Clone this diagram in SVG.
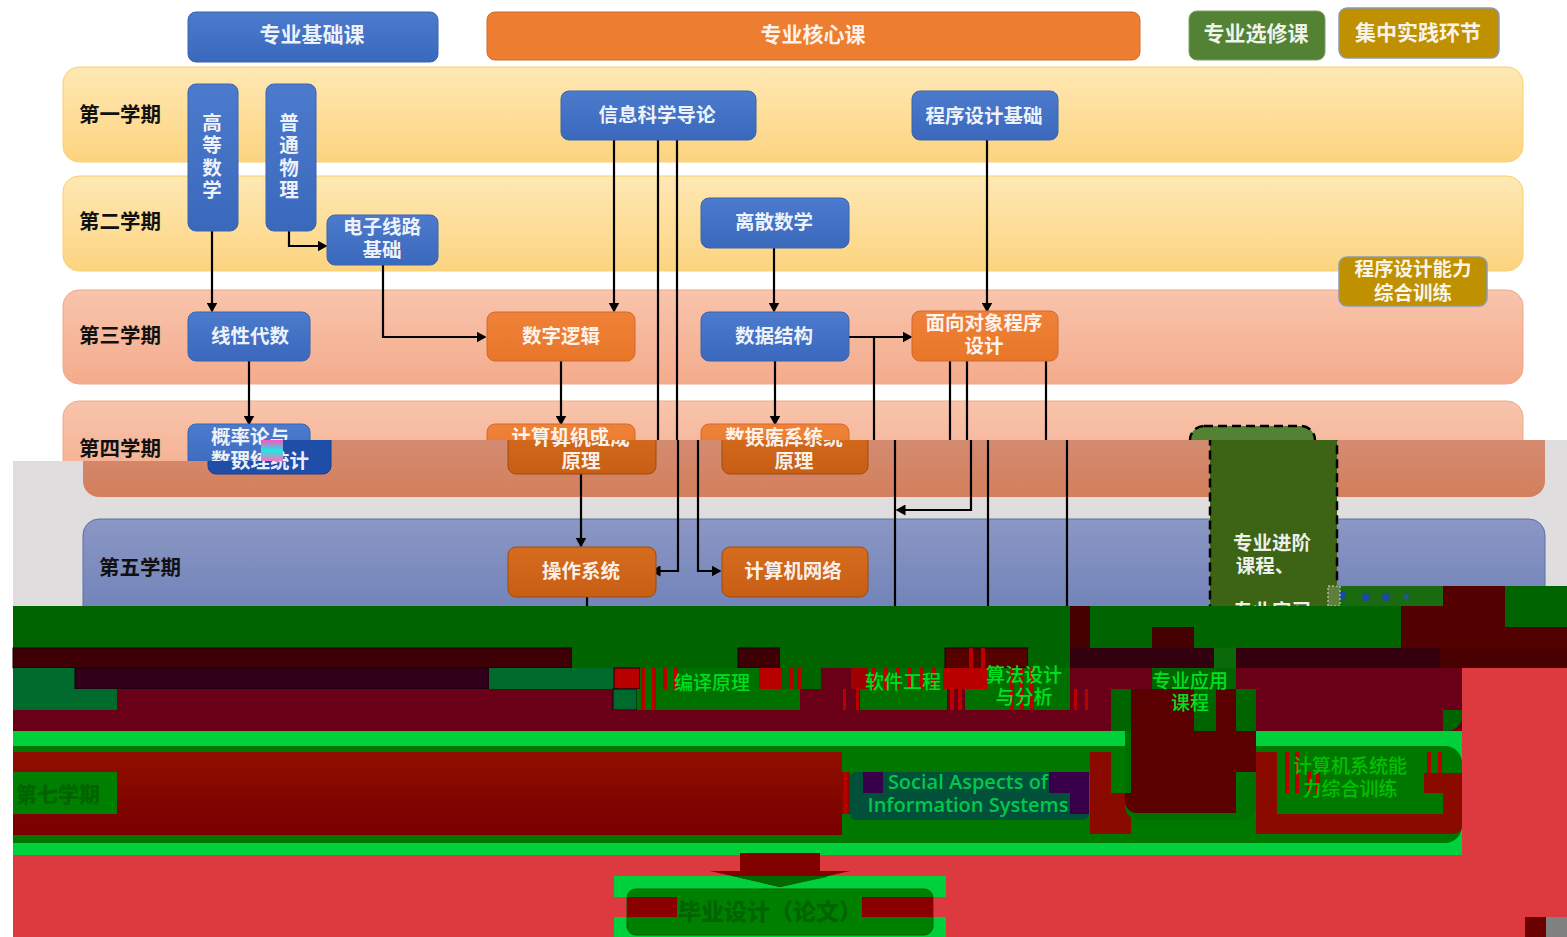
<svg xmlns="http://www.w3.org/2000/svg" width="1567" height="937" viewBox="0 0 1567 937">
<style>
text{font-family:"Noto Sans CJK SC","Noto Sans",sans-serif;text-anchor:middle}
.t{fill:#fff;font-size:19.5px;font-weight:700;fill-opacity:.92}
.h{fill:#fff;font-size:21px;font-weight:700;fill-opacity:.92}
.l{fill:#111;font-size:20.5px;font-weight:700;text-anchor:start}
.blue{fill:url(#gb);stroke:#3a64ac;stroke-width:1}
.or{fill:url(#go);stroke:#d4692a;stroke-width:1}
.dor{fill:url(#gdo);stroke:#a04a10;stroke-width:1}
.gold{fill:#bf9000;stroke:#8a9ab0;stroke-width:1.5}
.c{fill:none;stroke:#000;stroke-width:2.2}
.a{fill:none;stroke:#000;stroke-width:2.2;marker-end:url(#ar)}
.gt{fill:#00d010;font-size:19px;font-weight:500}
.dk{fill:#006400;font-weight:900}
.G{fill:#006400}.M{fill:#3e0004}.P{fill:#30001a}.C{fill:#6a0018}.R{fill:#b80000}.D{fill:#8a0a00}.B{fill:#00d03c}.K{fill:#5a0000}.T{fill:#006a2c}.V{fill:#38004a}.N{fill:#dd3a40}
.e{stroke:#12000a;stroke-width:1}
</style>
<defs>
<marker id="ar" markerWidth="10" markerHeight="11" refX="8.5" refY="5.5" orient="auto" markerUnits="userSpaceOnUse"><path d="M0 0L10 5.5L0 11Z" fill="#000"/></marker>
<linearGradient id="gb" x1="0" y1="0" x2="0" y2="1"><stop offset="0" stop-color="#4c7bcd"/><stop offset="1" stop-color="#3a68bc"/></linearGradient>
<linearGradient id="go" x1="0" y1="0" x2="0" y2="1"><stop offset="0" stop-color="#ee8238"/><stop offset="1" stop-color="#e87628"/></linearGradient>
<linearGradient id="gdo" x1="0" y1="0" x2="0" y2="1"><stop offset="0" stop-color="#d56c1e"/><stop offset="1" stop-color="#c85e14"/></linearGradient>
<linearGradient id="gy" x1="0" y1="0" x2="0" y2="1"><stop offset="0" stop-color="#ffe8b4"/><stop offset="1" stop-color="#fcd480"/></linearGradient>
<linearGradient id="gs" x1="0" y1="0" x2="0" y2="1"><stop offset="0" stop-color="#f8c4ac"/><stop offset="1" stop-color="#f4ab8c"/></linearGradient>
<linearGradient id="gs2" x1="0" y1="0" x2="0" y2="1"><stop offset="0" stop-color="#d39480"/><stop offset="1" stop-color="#d47f5c"/></linearGradient>
<linearGradient id="gbl" x1="0" y1="0" x2="0" y2="1"><stop offset="0" stop-color="#8b97c4"/><stop offset="1" stop-color="#6a7db6"/></linearGradient>
<linearGradient id="gn" x1="0" y1="0" x2="0" y2="1"><stop offset="0" stop-color="#ff50c8"/><stop offset=".5" stop-color="#20e8e0"/><stop offset="1" stop-color="#ff70c0"/></linearGradient>
<linearGradient id="gd" x1="0" y1="0" x2="0" y2="1"><stop offset="0" stop-color="#900e00"/><stop offset="1" stop-color="#780000"/></linearGradient>
<clipPath id="shift"><path d="M261 440H1567V606H13V461H261Z"/></clipPath>
</defs>
<rect width="1567" height="937" fill="#fff"/>
<g id="bands">
<rect x="63" y="67" width="1460" height="95" rx="16" fill="url(#gy)" stroke="#f8d070"/>
<rect x="63" y="176" width="1460" height="95" rx="16" fill="url(#gy)" stroke="#f8d070"/>
<rect x="63" y="290" width="1460" height="94" rx="16" fill="url(#gs)" stroke="#efa888"/>
<rect x="63" y="401" width="1460" height="94" rx="16" fill="url(#gs)" stroke="#efa888"/>
</g>
<g id="labels-top">
<text class="l" x="79" y="122">第一学期</text>
<text class="l" x="79" y="229">第二学期</text>
<text class="l" x="79" y="343">第三学期</text>
<text class="l" x="79" y="456">第四学期</text>
</g>
<g id="header-foundation"><rect class="blue" x="188" y="12" width="250" height="50" rx="8"/><text class="h" x="312" y="42">专业基础课</text></g>
<g id="header-core"><rect x="487" y="12" width="653" height="48" rx="8" fill="#ed7d31" stroke="#d46a28"/><text class="h" x="813" y="42">专业核心课</text></g>
<g id="header-elective"><rect x="1189" y="11" width="136" height="49" rx="8" fill="#548235" stroke="#7f9f68"/><text class="h" x="1256" y="41">专业选修课</text></g>
<g id="header-practice"><rect class="gold" x="1339" y="8" width="160" height="50" rx="8"/><text class="h" x="1418" y="40">集中实践环节</text></g>
<g id="connectors-top">
<path class="a" d="M212 231V311"/>
<path class="a" d="M289 231V246H326"/>
<path class="a" d="M383 265V337H485"/>
<path class="a" d="M614 140V311"/>
<path class="c" d="M658 140V440M677 140V440"/>
<path class="a" d="M987 140V311"/>
<path class="a" d="M774 248V311"/>
<path class="a" d="M249 361V424"/>
<path class="a" d="M561 361V424"/>
<path class="a" d="M775 361V424"/>
<path class="a" d="M849 337H911"/>
<path class="c" d="M874 337V440M950 361V440M967 361V440M1046 361V440"/>
</g>
<g id="n-math"><rect class="blue" x="188" y="84" width="50" height="147" rx="8"/><text class="t" x="212" y="130">高</text><text class="t" x="212" y="152">等</text><text class="t" x="212" y="175">数</text><text class="t" x="212" y="197">学</text></g>
<g id="n-physics"><rect class="blue" x="266" y="84" width="50" height="147" rx="8"/><text class="t" x="289" y="130">普</text><text class="t" x="289" y="152">通</text><text class="t" x="289" y="175">物</text><text class="t" x="289" y="197">理</text></g>
<g id="n-circuit"><rect class="blue" x="327" y="215" width="111" height="50" rx="8"/><text class="t" x="382" y="234">电子线路</text><text class="t" x="382" y="257">基础</text></g>
<g id="n-info"><rect class="blue" x="561" y="91" width="195" height="49" rx="8"/><text class="t" x="657" y="122">信息科学导论</text></g>
<g id="n-prog"><rect class="blue" x="912" y="91" width="146" height="49" rx="8"/><text class="t" x="984" y="123">程序设计基础</text></g>
<g id="n-discrete"><rect class="blue" x="701" y="198" width="148" height="50" rx="8"/><text class="t" x="774" y="229">离散数学</text></g>
<g id="n-linear"><rect class="blue" x="188" y="312" width="122" height="49" rx="8"/><text class="t" x="250" y="343">线性代数</text></g>
<g id="n-logic"><rect class="or" x="487" y="312" width="148" height="49" rx="8"/><text class="t" x="561" y="343">数字逻辑</text></g>
<g id="n-ds"><rect class="blue" x="701" y="312" width="148" height="49" rx="8"/><text class="t" x="774" y="343">数据结构</text></g>
<g id="n-oop"><rect class="or" x="912" y="311" width="146" height="50" rx="8"/><text class="t" x="984" y="330">面向对象程序</text><text class="t" x="984" y="353">设计</text></g>
<g id="n-training1"><rect class="gold" x="1339" y="257" width="148" height="49" rx="8"/><text class="t" x="1413" y="276">程序设计能力</text><text class="t" x="1413" y="300">综合训练</text></g>
<g id="n-prob"><rect class="blue" x="188" y="424" width="122" height="50" rx="8"/><text class="t" x="250" y="444">概率论与</text><text class="t" x="250" y="467">数理统计</text></g>
<g id="n-arch-top"><rect class="or" x="487" y="424" width="148" height="50" rx="8"/><text class="t" x="560" y="444">计算机组成</text></g>
<g id="n-db-top"><rect class="or" x="701" y="424" width="148" height="50" rx="8"/><text class="t" x="774" y="444">数据库系统</text></g>
<g id="n-adv-top"><rect x="1190" y="426" width="125" height="60" rx="14" fill="#548235" stroke="#000" stroke-width="2.5" stroke-dasharray="9 5"/></g>

<g clip-path="url(#shift)">
<g id="shifted-layer">
<rect x="13" y="440" width="1554" height="166" fill="#dfdddd"/>
<rect x="83" y="400" width="1462" height="97" rx="16" fill="url(#gs2)"/>
<rect x="83" y="519" width="1462" height="120" rx="16" fill="url(#gbl)" stroke="#5a70a8"/>
<text class="l" x="99" y="575">第五学期</text>
</g>
<g id="connectors-shifted">
<path class="a" d="M581 474V546"/>
<path class="a" d="M678 440V571H652"/>
<path class="a" d="M698 440V571H720"/>
<path class="a" d="M971 440V510H897"/>
<path class="c" d="M895 440V606M988 440V606M1067 440V606M587 597V606"/>
</g>
<g id="n-prob2"><rect x="208" y="424" width="123" height="50" rx="8" fill="#1f4ea8" stroke="#163f8e"/><text class="t" x="270" y="468">数理统计</text></g>
<g id="n-arch"><rect class="dor" x="508" y="424" width="148" height="50" rx="8"/><text class="t" x="581" y="445">计算机组成</text><text class="t" x="581" y="468">原理</text></g>
<g id="n-db"><rect class="dor" x="722" y="424" width="146" height="50" rx="8"/><text class="t" x="794" y="445">数据库系统</text><text class="t" x="794" y="468">原理</text></g>
<g id="n-os"><rect class="dor" x="508" y="547" width="148" height="50" rx="8"/><text class="t" x="581" y="578">操作系统</text></g>
<g id="n-net"><rect class="dor" x="722" y="547" width="146" height="50" rx="8"/><text class="t" x="793" y="578">计算机网络</text></g>
<g id="n-adv"><rect x="1210" y="426" width="127" height="200" rx="14" fill="#3d6315" stroke="#000" stroke-width="2.5" stroke-dasharray="9 5"/><text class="t" x="1272" y="550">专业进阶</text><text class="t" x="1265" y="573">课程、</text><text class="t" x="1272" y="618">专业实习</text></g>
<rect x="261" y="440" width="22" height="21" fill="url(#gn)"/>
</g>

<g id="glitch-bottom">
<rect x="1340" y="586" width="103" height="20" fill="#1a6a10"/>
<circle cx="1342" cy="595" r="4" fill="#1a4aa0"/><circle cx="1366" cy="597" r="4" fill="#1a4aa0"/><circle cx="1386" cy="597" r="4" fill="#1a4aa0"/><circle cx="1406" cy="597" r="3" fill="#1a5a90"/>
<rect x="1328" y="586" width="12" height="20" fill="#5f7f3a" stroke="#ddd" stroke-dasharray="2 2"/>
<rect x="1443" y="586" width="62" height="20" fill="#520000"/>
<rect x="13" y="606" width="1057" height="42" class="G"/>
<rect x="1070" y="606" width="20" height="42" fill="#450000"/>
<rect x="1090" y="606" width="311" height="42" class="G"/>
<rect x="1401" y="606" width="166" height="42" fill="#520000"/>
<rect x="1505" y="586" width="62" height="41" class="G"/>
<rect x="1152" y="627" width="42" height="21" fill="#450000"/>
<rect x="13" y="648" width="559" height="20" class="M e"/>
<rect x="572" y="648" width="166" height="20" class="G"/>
<rect x="738" y="648" width="42" height="20" class="M e"/>
<rect x="780" y="648" width="165" height="20" class="G"/>
<rect x="945" y="648" width="83" height="20" fill="#560000" class="e"/>
<rect x="969" y="648" width="4" height="20" class="R"/><rect x="981" y="648" width="4" height="20" class="R"/>
<rect x="1028" y="648" width="42" height="20" class="G"/>
<rect x="1070" y="648" width="144" height="20" fill="#32000e"/>
<rect x="1214" y="648" width="22" height="20" fill="#0a6a0a"/>
<rect x="1236" y="648" width="331" height="20" fill="#34000e"/>
<rect x="1440" y="648" width="127" height="20" fill="#480000"/>
<rect x="13" y="668" width="62" height="21" class="T"/>
<rect x="75" y="668" width="414" height="21" class="P e"/>
<rect x="489" y="668" width="125" height="21" class="T"/>
<rect x="614" y="668" width="26" height="21" class="R e"/>
<rect x="640" y="668" width="119" height="21" fill="#007000"/>
<rect x="759" y="668" width="23" height="21" class="R"/>
<rect x="782" y="668" width="39" height="21" class="G"/>
<rect x="821" y="668" width="30" height="21" class="C"/>
<rect x="851" y="668" width="17" height="21" fill="#a00000"/>
<rect x="868" y="668" width="75" height="21" fill="#007000"/>
<rect x="943" y="668" width="44" height="21" class="R"/>
<rect x="987" y="668" width="83" height="21" fill="#007000"/>
<rect x="1070" y="668" width="82" height="21" class="C"/>
<rect x="1152" y="668" width="84" height="21" class="G"/>
<rect x="1236" y="668" width="226" height="21" class="C"/>
<rect x="13" y="689" width="104" height="21" class="T"/>
<rect x="117" y="689" width="496" height="21" class="C"/>
<rect x="613" y="689" width="24" height="21" class="T e"/>
<rect x="637" y="689" width="163" height="21" fill="#007000"/>
<rect x="800" y="689" width="60" height="21" class="C"/>
<rect x="860" y="689" width="87" height="21" fill="#007000"/>
<rect x="947" y="689" width="18" height="21" class="C"/>
<rect x="965" y="689" width="105" height="21" fill="#007000"/>
<rect x="1070" y="689" width="41" height="21" class="C"/>
<rect x="13" y="710" width="1098" height="21" class="C"/>
<rect x="1111" y="689" width="20" height="42" class="G"/>
<rect x="1131" y="689" width="63" height="42" class="K"/>
<rect x="1194" y="689" width="22" height="42" class="G"/>
<rect x="1216" y="689" width="20" height="42" class="K"/>
<rect x="1236" y="689" width="20" height="42" class="G"/>
<rect x="1256" y="689" width="206" height="42" class="C"/>
<path d="M1443 710H1462V716a15 15 0 0 1-15 15H1443Z" class="G"/>
<g class="R">
<rect x="641" y="668" width="4" height="42"/><rect x="652" y="668" width="4" height="42"/><rect x="663" y="668" width="4" height="21"/><rect x="674" y="668" width="4" height="21"/>
<rect x="789" y="668" width="4" height="21"/><rect x="797" y="668" width="4" height="21"/>
<rect x="843" y="689" width="3" height="21"/><rect x="856" y="689" width="3" height="21"/>
<rect x="872" y="668" width="4" height="21"/><rect x="884" y="668" width="4" height="21"/><rect x="896" y="668" width="4" height="21"/><rect x="908" y="668" width="4" height="21"/><rect x="920" y="668" width="4" height="21"/><rect x="932" y="668" width="4" height="21"/>
<rect x="950" y="689" width="4" height="21"/><rect x="958" y="689" width="4" height="21"/>
<rect x="1074" y="689" width="3" height="21"/><rect x="1085" y="689" width="3" height="21"/>
<rect x="1010" y="668" width="4" height="42"/><rect x="1020" y="668" width="4" height="42"/><rect x="1030" y="668" width="4" height="42"/>
</g>
<rect x="13" y="731" width="1449" height="124" class="B"/>
<rect x="13" y="746" width="1112" height="97" fill="#007800"/>
<path d="M1125 746H1445a17 17 0 0 1 17 17V826a17 17 0 0 1-17 17H1125Z" fill="#007800"/>
<rect x="13" y="752" width="829" height="83" fill="url(#gd)"/>
<rect x="13" y="772" width="104" height="42" fill="#008000"/>
<text x="58" y="802" class="dk" font-size="21">第七学期</text>
<rect x="842" y="772" width="8" height="42" class="D"/>
<rect x="844" y="772" width="3" height="42" class="R"/><rect x="855" y="772" width="3" height="42" class="R"/>
<rect x="850" y="772" width="239" height="48" rx="6" fill="#00503a"/>
<rect x="863" y="772" width="20" height="21" class="V"/>
<rect x="1049" y="772" width="40" height="21" class="V"/>
<rect x="1070" y="793" width="19" height="21" class="V"/>
<text x="968" y="789" font-size="20" font-weight="600" style="font-family:'Open Sans',sans-serif" fill="#00c84a">Social Aspects of</text>
<text x="968" y="812" font-size="20" font-weight="600" style="font-family:'Open Sans',sans-serif" fill="#00c84a">Information Systems</text>
<rect x="1090" y="752" width="21" height="41" class="D"/>
<rect x="1090" y="793" width="41" height="41" class="D"/>
<path d="M1125 731H1256V806a14 14 0 0 1-14 14H1139a14 14 0 0 1-14-14Z" fill="#007000"/>
<path d="M1131 731H1256V772H1236V813H1137a12 12 0 0 1-12-12V793H1131Z" class="K"/>
<text class="gt" x="1190" y="688" style="fill:#00e020">专业应用</text><text class="gt" x="1190" y="710" style="fill:#00e020">课程</text>
<rect x="1256" y="752" width="21" height="82" class="D"/>
<path d="M1424 773H1462V814H1443V793H1424Z" class="D"/>
<path d="M1256 814H1462V826a8 8 0 0 1-8 8H1256Z" class="D"/>
<rect x="1285" y="752" width="4" height="41" class="R"/><rect x="1295" y="752" width="4" height="41" class="R"/>
<rect x="1307" y="772" width="4" height="21" class="R"/><rect x="1316" y="772" width="4" height="21" class="R"/>
<rect x="1427" y="752" width="4" height="21" class="R"/><rect x="1438" y="752" width="4" height="21" class="R"/>
<text class="gt" x="1350" y="773" style="fill:#00c000">计算机系统能</text>
<text class="gt" x="1350" y="796" style="fill:#00c000">力综合训练</text>
<rect x="1462" y="668" width="105" height="187" class="N"/>
<rect x="13" y="855" width="1554" height="82" class="N"/>
<rect x="614" y="876" width="332" height="61" class="B"/>
<rect x="614" y="897" width="13" height="20" class="N"/>
<rect x="933" y="897" width="13" height="20" class="N"/>
<rect x="627" y="889" width="306" height="46" rx="9" fill="#008000" stroke="#006000"/>
<rect x="627" y="897" width="50" height="20" fill="#8a0000"/>
<rect x="862" y="897" width="71" height="20" fill="#8a0000"/>
<text x="770" y="920" class="dk" font-size="23">毕业设计（论文）</text>
<path d="M740 853H820V871H850L780 887L710 871H740Z" fill="#800000"/>
<path d="M733 876H827V877L780 887Z" fill="#006a00"/>
<rect x="1525" y="917" width="21" height="20" fill="#6a0000"/>
<rect x="1546" y="917" width="21" height="20" fill="#808080"/>
<text class="gt" x="712" y="690" style="fill:#00dc20">编译原理</text>
<text class="gt" x="903" y="689" style="fill:#00dc20">软件工程</text>
<text class="gt" x="1024" y="682" style="fill:#00e020">算法设计</text>
<text class="gt" x="1024" y="704" style="fill:#00e020">与分析</text>
</g>
</svg>
